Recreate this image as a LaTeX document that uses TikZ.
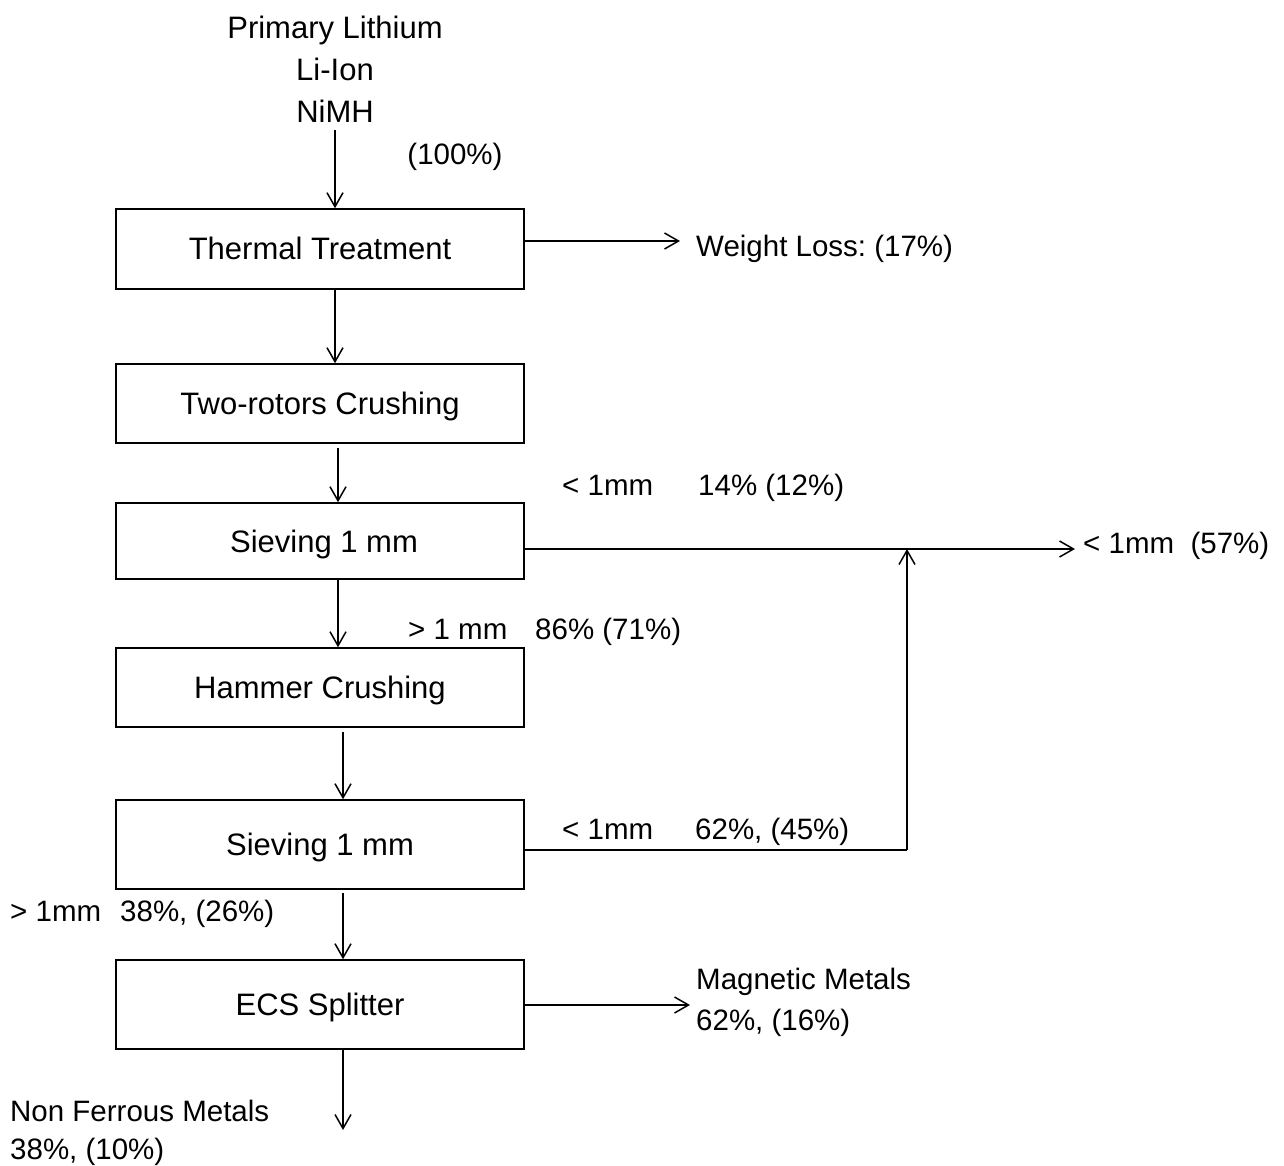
\documentclass[tikz,border=0pt]{standalone}
\usepackage{fontspec}
\setmainfont{Liberation Sans}
\usetikzlibrary{arrows.meta}
\frenchspacing
\begin{document}
\begin{tikzpicture}[x=1pt,y=-1pt,
  every node/.style={font=\fontsize{29.5}{35}\selectfont, inner sep=0pt},
  procbox/.style={draw, line width=1.6pt, minimum width=408pt, inner sep=0pt, font=\fontsize{31}{36}\selectfont, text height=22pt, text depth=0pt},
  lbl/.style={anchor=west, yshift=-3pt, text height=22pt, text depth=6pt},
  clbl/.style={anchor=center, yshift=-3pt, text height=22pt, text depth=6pt, font=\fontsize{31}{36}\selectfont},
  arr/.style={line width=1.5pt, -{Straight Barb[length=14pt,width=16pt,line width=1.5pt]}},
  ln/.style={line width=1.5pt}]
\useasboundingbox (0,0) rectangle (1284,1166);
% boxes
\node[procbox, minimum height=80pt] (thermal) at (320,249) {Thermal Treatment};
\node[procbox, minimum height=79pt] (tworot) at (320,403.5) {Two-rotors Crushing};
\node[procbox, minimum height=76pt] (sieve1) at (320,541) {\hspace*{8pt}Sieving 1 mm};
\node[procbox, minimum height=79pt] (hammer) at (320,687.5) {Hammer Crushing};
\node[procbox, minimum height=89pt] (sieve2) at (320,844.5) {Sieving 1 mm};
\node[procbox, minimum height=89pt] (ecs) at (320,1004.5) {ECS Splitter};
% texts
\node[clbl] (src1) at (335,28) {Primary Lithium};
\node[clbl] (src2) at (335,70) {Li-Ion};
\node[clbl] (src3) at (335,112) {NiMH};
\node[clbl, font=\fontsize{29.5}{35}\selectfont] (pct100) at (455,154) {(100\%)};
\node[lbl] (wl) at (696,245) {Weight Loss: (17\%)};
\node[lbl] (s1a) at (562,484) {< 1mm};
\node[lbl] (s1b) at (698,484) {14\% (12\%)};
\node[lbl] (out57) at (1083,542) {< 1mm\ \ (57\%)};
\node[lbl] (g1a) at (408,628) {> 1 mm};
\node[lbl] (g1b) at (535,628) {86\% (71\%)};
\node[lbl] (s2a) at (562,828) {< 1mm};
\node[lbl] (s2b) at (695,828) {62\%, (45\%)};
\node[lbl] (g2a) at (10,910) {> 1mm};
\node[lbl] (g2b) at (120,910) {38\%, (26\%)};
\node[lbl] (mag1) at (696,978) {Magnetic Metals};
\node[lbl] (mag2) at (696,1019) {62\%, (16\%)};
\node[lbl] (nf1) at (10,1110) {Non Ferrous Metals};
\node[lbl] (nf2) at (10,1148) {38\%, (10\%)};
% coordinates
\coordinate (inp) at (335,130);
\coordinate (wlend) at (680,241);
\coordinate (s1end) at (1075,549);
\coordinate (jt) at (907,549);
\coordinate (jb) at (907,850);
\coordinate (magend) at (690,1005);
\coordinate (nfend) at (343,1130);
% connectors
\draw[arr] (inp) -- (inp |- thermal.north);
\draw[arr] ([xshift=15pt]thermal.south) -- ([xshift=15pt]tworot.north);
\draw[arr] ([xshift=18pt,yshift=-4pt]tworot.south) -- ([xshift=18pt]sieve1.north);
\draw[arr] ([xshift=18pt]sieve1.south) -- ([xshift=18pt]hammer.north);
\draw[arr] ([xshift=23pt,yshift=-4pt]hammer.south) -- ([xshift=23pt]sieve2.north);
\draw[arr] ([xshift=23pt,yshift=-3pt]sieve2.south) -- ([xshift=23pt]ecs.north);
\draw[arr] ([xshift=23pt]ecs.south) -- (nfend);
\draw[arr] (thermal.east |- wlend) -- (wlend);
\draw[arr] (sieve1.east |- s1end) -- (s1end);
\draw[ln] (sieve2.east |- jb) -- (jb);
\draw[arr] (jb) -- (jt);
\draw[arr] (ecs.east |- magend) -- (magend);
\end{tikzpicture}
\end{document}
